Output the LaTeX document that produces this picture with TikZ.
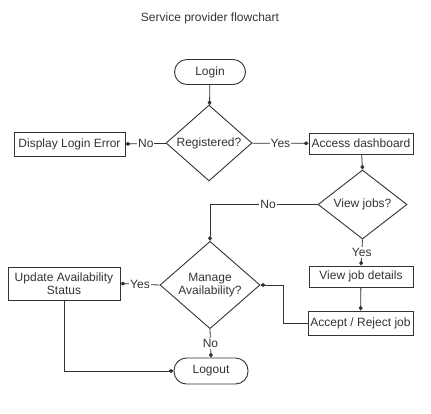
\documentclass[tikz,border=0pt]{standalone}
\usepackage{fontspec}
\setmainfont{Liberation Sans}
\usetikzlibrary{shapes.geometric,arrows.meta}
\definecolor{ink}{HTML}{333333}
\definecolor{txt}{HTML}{333333}
\begin{document}
\begin{tikzpicture}[x=1pt,y=-1pt,
  font=\fontsize{12}{13.5}\selectfont, text=txt,
  boxnode/.style={draw=ink, line width=0.9pt, rectangle, inner sep=0pt, align=center},
  termnode/.style={draw=ink, line width=0.9pt, rectangle, rounded corners=12.5pt, inner sep=0pt, minimum width=71pt, minimum height=25pt},
  decnode/.style={draw=ink, line width=0.9pt, diamond, inner sep=0pt, align=center},
  conn/.style={draw=ink, line width=0.8pt, -{Diamond[length=5pt,width=4pt]}},
  lbl/.style={fill=white, inner sep=1pt, text=txt}]
\useasboundingbox (0,0) rectangle (431,413);
\node (title) at (210,18) {Service provider flowchart};
\node[termnode] (login) at (210,72) {Login};
\node[decnode, minimum width=86pt, minimum height=58pt] (reg) at (209,143) {Registered?};
\node[boxnode, minimum width=111pt, minimum height=24pt] (err) at (69.5,144.5) {Display Login Error};
\node[boxnode, minimum width=104pt, minimum height=21pt] (dash) at (361,143.5) {Access dashboard};
\node[decnode, minimum width=89pt, minimum height=61pt] (jobs) at (362.5,204.5) {View jobs?};
\node[decnode, minimum width=100pt, minimum height=70pt] (man) at (210,285) {Manage\\Availability?};
\node[boxnode, minimum width=112pt, minimum height=33pt] (upd) at (64,283.5) {Update Availability\\Status};
\node[boxnode, minimum width=104pt, minimum height=21pt] (det) at (361,276.5) {View job details};
\node[boxnode, minimum width=105pt, minimum height=24pt] (acc) at (360.5,323) {Accept / Reject job};
\node[termnode, minimum width=74pt, minimum height=26pt] (out) at (211,371) {Logout};
\draw[conn] (login) -- (reg);
\draw[conn] (reg) -- node[lbl] {No} (err);
\draw[conn] (reg) -- node[lbl] {Yes} (dash);
\draw[conn] (dash) -- (jobs.north);
\draw[conn] (jobs.west) -| node[lbl, pos=0.23] {No} (man.north);
\draw[conn] (jobs.south) -- node[lbl] {Yes} (det.north);
\draw[conn] (det) -- (acc);
\draw[conn] (acc.west) -- ++(-24,0) |- (man.east);
\draw[conn] (man.west) -- node[lbl] {Yes} (upd.east);
\draw[conn] (man.south) -- node[lbl] {No} (out.north);
\draw[conn] (upd.south) |- (out.west);
\end{tikzpicture}
\end{document}
